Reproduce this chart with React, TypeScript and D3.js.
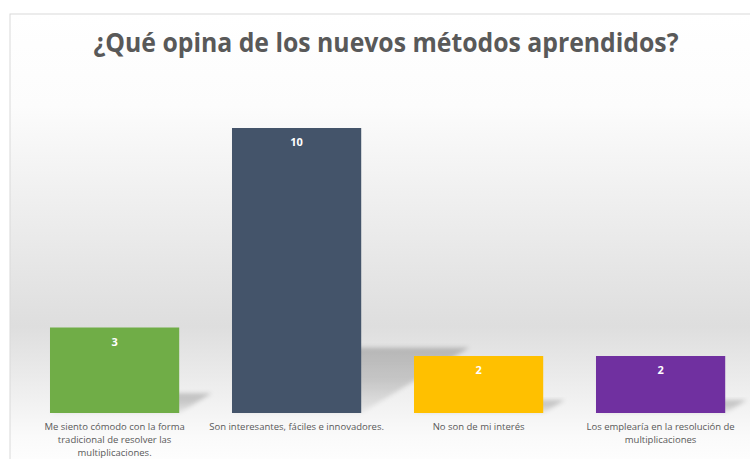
import React from "react";
import * as d3 from "d3";

const title = "¿Qué opina de los nuevos métodos aprendidos?";
const categories = [
  "Me siento cómodo con la forma tradicional de resolver las multiplicaciones.",
  "Son interesantes, fáciles e innovadores.",
  "No son de mi interés",
  "Los emplearía en la resolución de multiplicaciones",
];
const labelLines = [
  ["Me siento cómodo con la forma", "tradicional de resolver las", "multiplicaciones."],
  ["Son interesantes, fáciles e innovadores."],
  ["No son de mi interés"],
  ["Los emplearía en la resolución de", "multiplicaciones"],
];
const values = [3, 10, 2, 2];
const colors = ["#70AD47", "#44546A", "#FFC000", "#7030A0"];

const W = 750;
const H = 459;

export default function App() {
  const x = d3
    .scaleBand<string>()
    .domain(categories)
    .range([23.6, 751.6])
    .paddingInner(0.29)
    .paddingOuter(0.145);
  const y = d3.scaleLinear().domain([0, 10]).range([413, 128]);
  const base = y(0);
  const font = "'Open Sans', 'DejaVu Sans', sans-serif";

  return (
    <svg
      width={W}
      height={H}
      style={{ position: "absolute", left: 0, top: 0, display: "block" }}
    >
      <defs>
        <linearGradient id="bg" x1="0" y1="0" x2="0" y2="1">
          <stop offset="0" stopColor="#ffffff" />
          <stop offset="0.2" stopColor="#fcfcfc" />
          <stop offset="0.68" stopColor="#dedede" />
          <stop offset="0.8" stopColor="#ececec" />
          <stop offset="0.92" stopColor="#fafafa" />
          <stop offset="1" stopColor="#ffffff" />
        </linearGradient>
        <linearGradient id="sh" x1="0" y1="1" x2="0" y2="0">
          <stop offset="0" stopColor="#000" stopOpacity="0.05" />
          <stop offset="0.5" stopColor="#000" stopOpacity="0.16" />
          <stop offset="1" stopColor="#000" stopOpacity="0.2" />
        </linearGradient>
        <filter id="blur" x="-20%" y="-20%" width="140%" height="140%">
          <feGaussianBlur stdDeviation="2" />
        </filter>
      </defs>
      <rect x={0} y={0} width={W} height={H} fill="#ffffff" />
      <rect x={10} y={14} width={W} height={H} fill="url(#bg)" stroke="#d9d9d9" strokeWidth={1} />
      <text
        x={386}
        y={52}
        textAnchor="middle"
        fontFamily={font}
        fontWeight={700}
        fontSize={27}
        fill="#595959"
        textLength={585}
        lengthAdjust="spacingAndGlyphs"
      >
        {title}
      </text>
      {categories.map((c, i) => {
        const x0 = x(c)!;
        const bw = x.bandwidth();
        const top = y(values[i]);
        const h = base - top;
        const dx = h * 0.38;
        const dy = h * 0.23;
        const pts = [
          [x0, base],
          [x0 + bw, base],
          [x0 + bw + dx, base - dy],
          [x0 + dx, base - dy],
        ];
        return (
          <polygon
            key={"s" + i}
            points={pts.map((p) => p.join(",")).join(" ")}
            fill="url(#sh)"
            filter="url(#blur)"
          />
        );
      })}
      {categories.map((c, i) => (
        <rect
          key={"b" + i}
          x={x(c)!}
          y={y(values[i])}
          width={x.bandwidth()}
          height={base - y(values[i])}
          fill={colors[i]}
        />
      ))}
      {categories.map((c, i) => (
        <text
          key={"v" + i}
          x={x(c)! + x.bandwidth() / 2}
          y={y(values[i]) + 18}
          textAnchor="middle"
          fontFamily={font}
          fontWeight={700}
          fontSize={11}
          fill="#ffffff"
        >
          {values[i]}
        </text>
      ))}
      {categories.map((c, i) => (
        <text
          key={"l" + i}
          x={x(c)! + x.bandwidth() / 2}
          textAnchor="middle"
          fontFamily={font}
          fontSize={9.5}
          fill="#595959"
        >
          {labelLines[i].map((line, j) => (
            <tspan key={j} x={x(c)! + x.bandwidth() / 2} y={430 + j * 12.8}>
              {line}
            </tspan>
          ))}
        </text>
      ))}
    </svg>
  );
}
